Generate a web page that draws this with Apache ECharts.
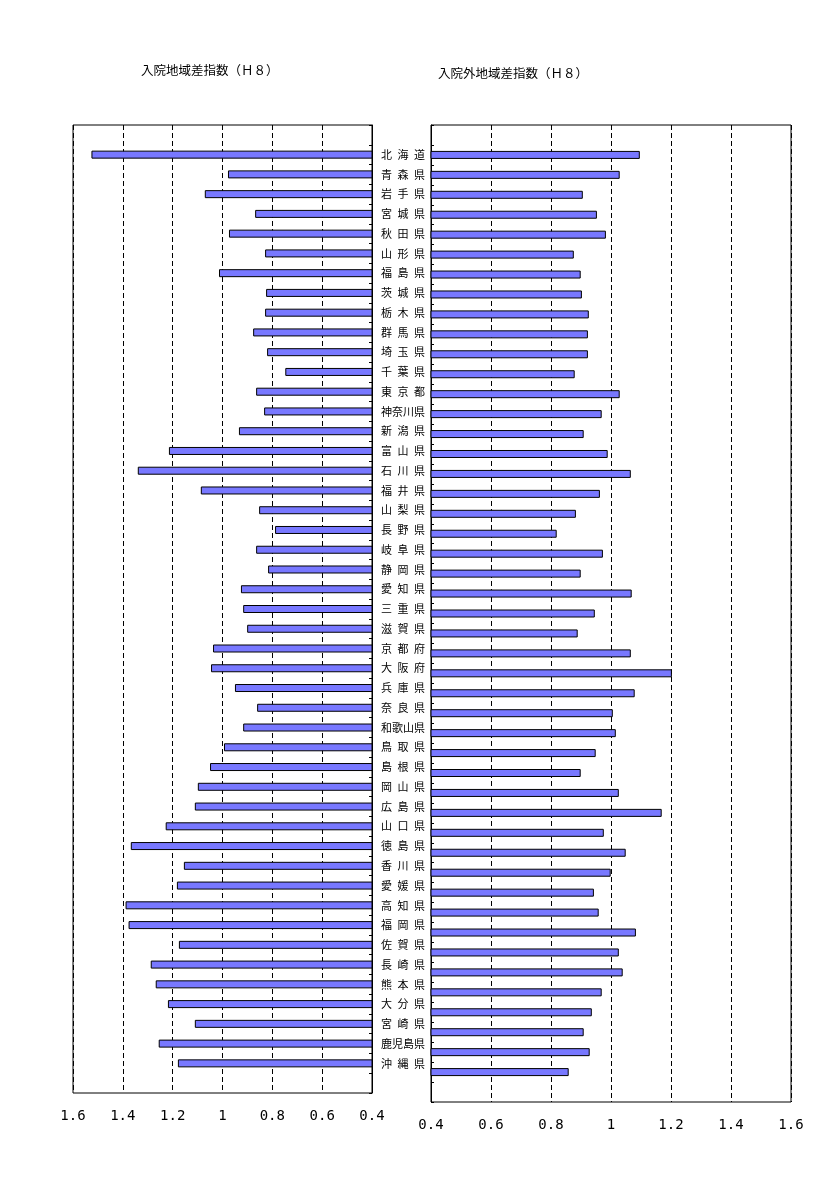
<!DOCTYPE html>
<html><head><meta charset="utf-8">
<script src="https://cdn.jsdelivr.net/npm/echarts/dist/echarts.min.js"></script>
<style>html,body{margin:0;padding:0;background:#fff}#c{width:819px;height:1186px}</style>
</head><body><div id="c"></div>
<script>
const prefectures = ['北海道','青森県','岩手県','宮城県','秋田県','山形県','福島県','茨城県','栃木県','群馬県','埼玉県','千葉県','東京都','神奈川県','新潟県','富山県','石川県','福井県','山梨県','長野県','岐阜県','静岡県','愛知県','三重県','滋賀県','京都府','大阪府','兵庫県','奈良県','和歌山県','鳥取県','島根県','岡山県','広島県','山口県','徳島県','香川県','愛媛県','高知県','福岡県','佐賀県','長崎県','熊本県','大分県','宮崎県','鹿児島県','沖縄県'];
const inpatientIndex = [1.526,0.978,1.071,0.869,0.974,0.829,1.014,0.825,0.829,0.877,0.821,0.748,0.865,0.833,0.934,1.215,1.340,1.087,0.853,0.789,0.865,0.817,0.926,0.917,0.901,1.038,1.046,0.950,0.861,0.917,0.994,1.050,1.099,1.111,1.228,1.368,1.155,1.183,1.389,1.377,1.175,1.288,1.268,1.219,1.111,1.256,1.179];
const outpatientIndex = [1.096,1.029,0.906,0.953,0.983,0.876,0.899,0.903,0.926,0.923,0.923,0.879,1.029,0.969,0.909,0.989,1.066,0.963,0.883,0.819,0.973,0.899,1.069,0.946,0.889,1.066,1.203,1.079,1.006,1.016,0.949,0.899,1.026,1.169,0.976,1.049,0.999,0.943,0.959,1.083,1.026,1.039,0.969,0.936,0.909,0.929,0.859];
const xTicks = [0.4,0.6,0.8,1,1.2,1.4,1.6];
const titleLeft = '入院地域差指数（Ｈ８）';
const titleRight = '入院外地域差指数（Ｈ８）';

const axisCats = [''].concat(prefectures, ['']);
const padData = a => [null].concat(a, [null]);
const fmtName = s => s.length === 3 ? s.split('').join('\u2002') : s;
const barColor = '#7878ff';
const cjk = '"Noto Sans CJK JP", sans-serif';
const mono = '"DejaVu Sans Mono", monospace';
const xMin = xTicks[0], xMax = xTicks[xTicks.length - 1], xStep = xTicks[1] - xTicks[0];

function xAxisCfg(idx, inverse) {
  return {
    type: 'value', gridIndex: idx, min: xMin, max: xMax, interval: xStep, inverse: inverse,
    axisLine: {show: false}, axisTick: {show: false},
    axisLabel: {color: '#000', fontFamily: mono, fontSize: 14, margin: 16,
      formatter: v => String(Math.round(v * 10) / 10)},
    splitLine: {show: true, lineStyle: {color: '#000', width: 1, type: [5, 3]}}
  };
}
function barSeries(idx, data) {
  return {
    type: 'bar', xAxisIndex: idx, yAxisIndex: idx, data: padData(data), barWidth: 8, clip: true,
    itemStyle: {color: barColor, borderColor: '#000', borderWidth: 1}, animation: false
  };
}

const chart = echarts.init(document.getElementById('c'), null, {renderer: 'canvas'});
chart.setOption({
  animation: false,
  backgroundColor: '#fff',
  title: [
    {text: titleLeft, left: 141, top: 64, padding: 0, textStyle: {fontFamily: cjk, fontSize: 12.5, fontWeight: 'normal', color: '#000'}},
    {text: titleRight, left: 438, top: 67, padding: 0, textStyle: {fontFamily: cjk, fontSize: 12.5, fontWeight: 'normal', color: '#000'}}
  ],
  grid: [
    {left: 73, right: 447, top: 125, bottom: 93, show: true, borderColor: '#000', borderWidth: 1, backgroundColor: 'transparent', containLabel: false, outerBoundsMode: 'none'},
    {left: 431, right: 28, top: 125, bottom: 84, show: true, borderColor: '#000', borderWidth: 1, backgroundColor: 'transparent', containLabel: false, outerBoundsMode: 'none'}
  ],
  xAxis: [xAxisCfg(0, true), xAxisCfg(1, false)],
  yAxis: [
    {type: 'category', gridIndex: 0, data: axisCats, inverse: true, position: 'right',
      axisLine: {show: true, lineStyle: {color: '#000'}},
      axisTick: {show: true, inside: true, length: 3, interval: 0, lineStyle: {color: '#000'}},
      axisLabel: {show: true, interval: 0, margin: 9, color: '#000', fontFamily: cjk, fontSize: 11, align: 'left', formatter: fmtName},
      splitLine: {show: false}},
    {type: 'category', gridIndex: 1, data: axisCats, inverse: true, position: 'left',
      axisLine: {show: true, lineStyle: {color: '#000'}},
      axisTick: {show: true, inside: true, length: 3, interval: 0, lineStyle: {color: '#000'}},
      axisLabel: {show: false},
      splitLine: {show: false}}
  ],
  series: [barSeries(0, inpatientIndex), barSeries(1, outpatientIndex)]
});
</script>
</body></html>
